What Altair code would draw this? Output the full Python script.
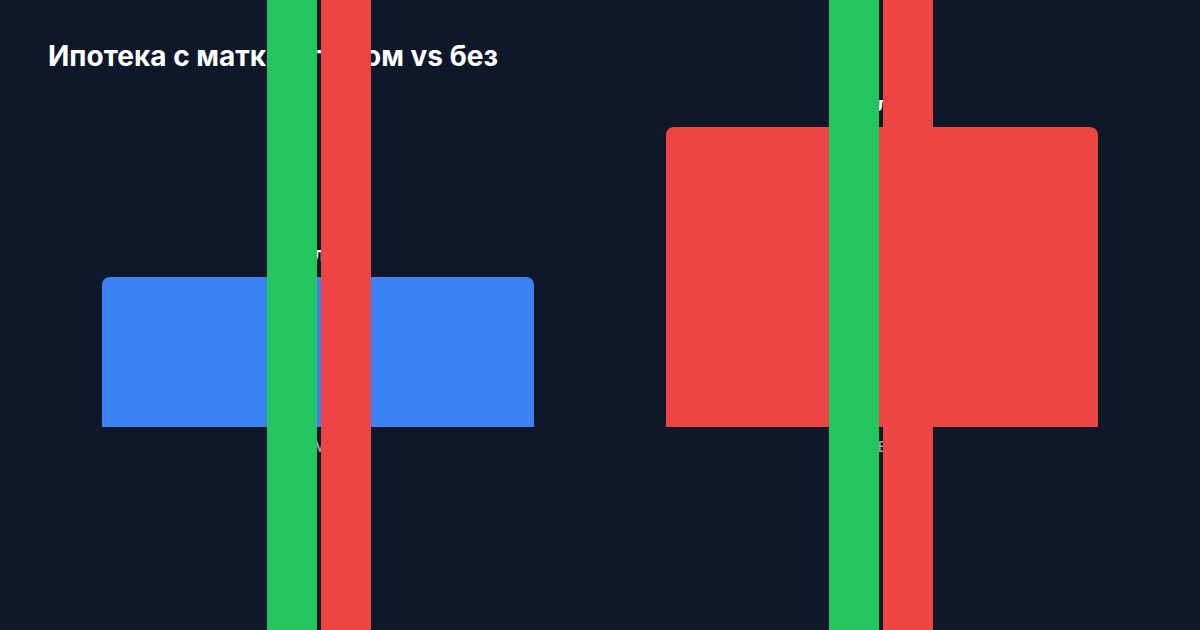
import altair as alt
import pandas as pd
import jinja2

# ---- data ----
title_text = "Ипотека с маткапиталом vs без"
categories = ["С МК", "БЕЗ"]
values = [3.0, 6.0]
value_labels = ["3 млн ₽", "6 млн ₽"]
bar_colors = ["#3b82f6", "#ef4444"]

stripe_categories = ["С МК", "С МК", "БЕЗ", "БЕЗ"]
stripe_series = ["зелёная", "красная", "зелёная", "красная"]

BG = "#0f172a"

bars_df = pd.DataFrame({"cat": categories, "val": values, "label": value_labels, "color": bar_colors})
stripes_df = pd.DataFrame({"cat": stripe_categories, "series": stripe_series})
title_df = pd.DataFrame({"t": [title_text]})

x_enc = alt.X(
    "cat:N",
    sort=categories,
    title=None,
    scale=alt.Scale(paddingInner=0.23404, paddingOuter=0.11702),
    axis=alt.Axis(labelAngle=0, labelColor="#94a3b8", labelFontSize=14, labelFont="Inter",
                  labelFontWeight=600, ticks=False, domain=False, labelPadding=13, grid=False),
)
y_enc = alt.Y("val:Q", scale=alt.Scale(domain=[0, 6], nice=False), axis=None)

bars = alt.Chart(bars_df).mark_bar(cornerRadiusTopLeft=8, cornerRadiusTopRight=8).encode(
    x=x_enc, y=y_enc, color=alt.Color("color:N", scale=None)
)

labels = alt.Chart(bars_df).mark_text(
    baseline="bottom", dy=-12, color="white", fontSize=20, fontWeight="bold", font="Inter"
).encode(x=alt.X("cat:N", sort=categories), y="val:Q", text="label:N")

title = alt.Chart(title_df).mark_text(
    align="left", baseline="alphabetic", color="white", fontSize=28, fontWeight="bold", font="Inter"
).encode(x=alt.value(12), y=alt.value(-61), text="t:N")

stripe_x = alt.X("cat:N", sort=categories, axis=None,
                 scale=alt.Scale(paddingInner=0, paddingOuter=0.00356))

green = alt.Chart(stripes_df).transform_filter(alt.datum.series == "зелёная").mark_rule(
    strokeWidth=50, color="#22c55e", xOffset=-27, strokeCap="butt"
).encode(x=stripe_x, y=alt.value(-127), y2=alt.value(503))

red = alt.Chart(stripes_df).transform_filter(alt.datum.series == "красная").mark_rule(
    strokeWidth=50, color="#ef4444", xOffset=27, strokeCap="butt"
).encode(x=stripe_x, y=alt.value(-127), y2=alt.value(503))

chart = alt.layer(
    alt.layer(bars, labels, title),
    alt.layer(green, red),
).resolve_scale(x="independent").properties(
    width=1128,
    height=300,
    autosize=alt.AutoSizeParams(type="none"),
    padding={"left": 36, "right": 36, "top": 127, "bottom": 203},
    background=BG,
).configure_view(stroke=None)

TEMPLATE = jinja2.Template("""<!DOCTYPE html>
<html>
<head>
  <meta charset="utf-8">
  <style>
    html, body { margin: 0; padding: 0; background: #0f172a; overflow: hidden; }
  </style>
  <script type="text/javascript" src="{{ base_url }}/vega@{{ vega_version }}"></script>
  <script type="text/javascript" src="{{ base_url }}/vega-lite@{{ vegalite_version }}"></script>
  <script type="text/javascript" src="{{ base_url }}/vega-embed@{{ vegaembed_version }}"></script>
</head>
<body>
  <div id="{{ output_div }}"></div>
  <script type="text/javascript">
    var spec = {{ spec }};
    var embedOpt = {{ embed_options }};
    vegaEmbed("#{{ output_div }}", spec, embedOpt).catch(console.error);
  </script>
</body>
</html>
""")

try:
    chart.save("out.html", embed_options={"renderer": "svg", "actions": False}, template=TEMPLATE)
except TypeError:
    chart.save("out.html", embed_options={"renderer": "svg", "actions": False})
